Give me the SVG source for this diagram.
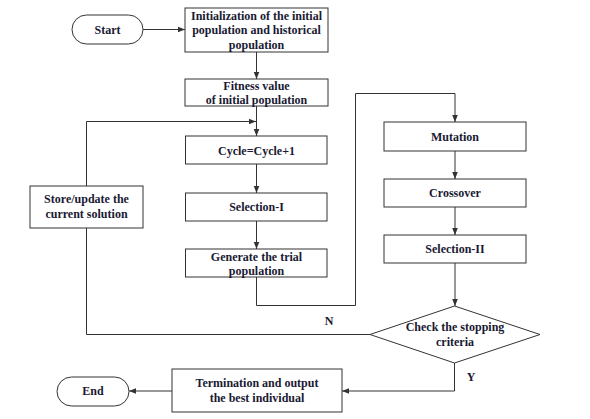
<svg xmlns="http://www.w3.org/2000/svg" width="590" height="419" viewBox="0 0 590 419">
<style>
.box{fill:#fff;stroke:#333;stroke-width:1}
.t{font-family:"Liberation Serif","Times New Roman",serif;font-weight:bold;font-size:12px;fill:#1a1a33;text-anchor:middle}
.c{fill:none;stroke:#333;stroke-width:1}
</style>
<defs>
<marker id="a" viewBox="0 0 10 10" refX="10" refY="5" markerWidth="7" markerHeight="7" orient="auto" markerUnits="userSpaceOnUse">
<path d="M0,1 L10,5 L0,9 z" fill="#333"/>
</marker>
</defs>
<rect width="590" height="419" fill="#fff"/>
<g id="connectors">
<line class="c" x1="143" y1="29.5" x2="185" y2="29.5" marker-end="url(#a)"/>
<line class="c" x1="256.5" y1="52" x2="256.5" y2="79" marker-end="url(#a)"/>
<line class="c" x1="256.5" y1="106" x2="256.5" y2="136" marker-end="url(#a)"/>
<polyline class="c" points="86.5,186 86.5,121.5 256,121.5" marker-end="url(#a)"/>
<line class="c" x1="256.5" y1="164" x2="256.5" y2="193" marker-end="url(#a)"/>
<line class="c" x1="256.5" y1="221" x2="256.5" y2="249" marker-end="url(#a)"/>
<polyline class="c" points="256.5,277 256.5,305.5 355.5,305.5 355.5,93.5 455,93.5 455,122" marker-end="url(#a)"/>
<line class="c" x1="455" y1="151" x2="455" y2="179" marker-end="url(#a)"/>
<line class="c" x1="455" y1="207" x2="455" y2="235" marker-end="url(#a)"/>
<line class="c" x1="455" y1="263" x2="455" y2="306" marker-end="url(#a)"/>
<polyline class="c" points="370,334.5 86.5,334.5 86.5,228"/>
<polyline class="c" points="454.5,363 454.5,391 342,391" marker-end="url(#a)"/>
<line class="c" x1="172" y1="391" x2="129" y2="391" marker-end="url(#a)"/>
<text class="t" x="329" y="325">N</text>
<text class="t" x="471" y="381">Y</text>
</g>
<g id="start"><rect class="box" x="72" y="15" width="71" height="29" rx="14.5"/><text class="t" x="107.5" y="33.5">Start</text></g>
<g id="init"><rect class="box" x="185" y="8" width="143" height="44"/><text class="t" x="256.5" y="19.5">Initialization of the initial</text><text class="t" x="256.5" y="34">population and historical</text><text class="t" x="256.5" y="48.5">population</text></g>
<g id="fitness"><rect class="box" x="185" y="79" width="143" height="27"/><text class="t" x="256.5" y="90">Fitness value</text><text class="t" x="256.5" y="103.5">of initial population</text></g>
<g id="cycle"><rect class="box" x="185.5" y="136" width="141.5" height="28"/><text class="t" x="256.5" y="154.5">Cycle=Cycle+1</text></g>
<g id="sel1"><rect class="box" x="185.5" y="193" width="141.5" height="28"/><text class="t" x="256.5" y="211">Selection-I</text></g>
<g id="gen"><rect class="box" x="185.5" y="249" width="141.5" height="28"/><text class="t" x="256.5" y="260.5">Generate the trial</text><text class="t" x="256.5" y="274.5">population</text></g>
<g id="store"><rect class="box" x="30" y="186" width="113" height="42"/><text class="t" x="86.5" y="203">Store/update the</text><text class="t" x="86.5" y="218">current solution</text></g>
<g id="mutation"><rect class="box" x="384" y="122" width="142" height="29"/><text class="t" x="455" y="140.5">Mutation</text></g>
<g id="crossover"><rect class="box" x="384" y="179" width="142" height="28"/><text class="t" x="455" y="197">Crossover</text></g>
<g id="sel2"><rect class="box" x="384" y="235" width="142" height="28"/><text class="t" x="455" y="253">Selection-II</text></g>
<g id="check"><polygon class="box" points="454.5,306 540,334.5 454.5,363 370,334.5"/><text class="t" x="455" y="331">Check the stopping</text><text class="t" x="455" y="346">criteria</text></g>
<g id="term"><rect class="box" x="172" y="369" width="170" height="43"/><text class="t" x="257" y="387">Termination and output</text><text class="t" x="257" y="401.5">the best individual</text></g>
<g id="end"><rect class="box" x="57" y="377" width="72" height="29" rx="14.5"/><text class="t" x="93" y="395">End</text></g>
</svg>
